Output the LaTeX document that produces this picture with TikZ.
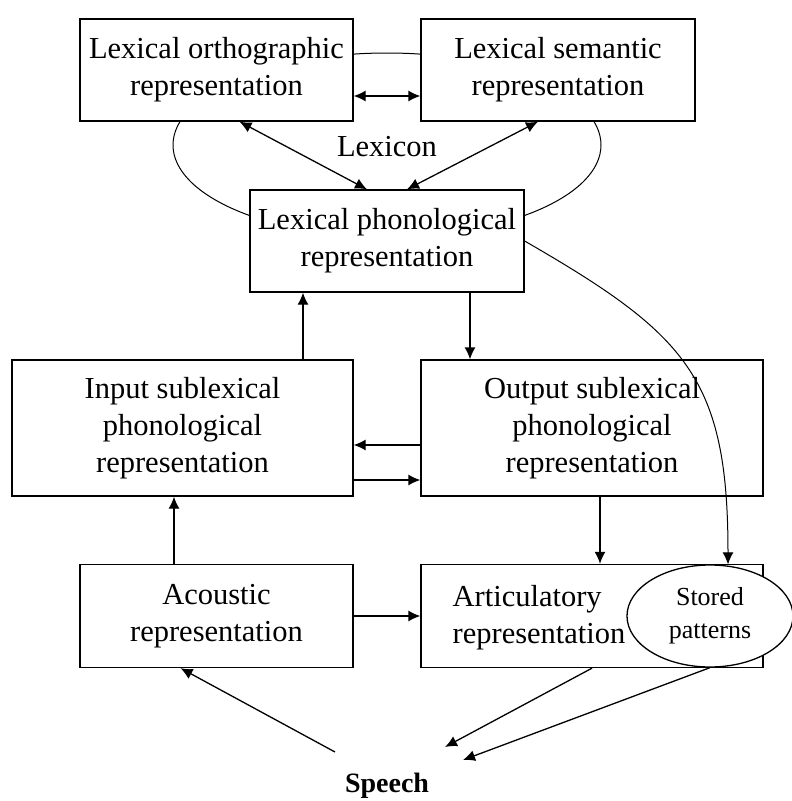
\documentclass[tikz,border=0pt]{standalone}
\usepackage{fontspec}
\setmainfont{Liberation Serif}
\usetikzlibrary{shapes.geometric,arrows.meta}

\begin{document}
\begin{tikzpicture}[x=1pt,y=-1pt,line width=1.3pt,
  box/.style={draw, fill=white, align=center, inner sep=0pt, font=\fontsize{30.5}{37}\selectfont},
  >={Latex[length=12pt,width=11pt]}]
\useasboundingbox (0,0) rectangle (792,801);
\node[draw, ellipse, line width=1pt, minimum width=428pt, minimum height=184pt] (x) at (387,145) {};
\node[font=\fontsize{30.5}{37}\selectfont] (l) at (387,147) {Lexicon};
\node[box, minimum width=273pt, minimum height=102pt] (o) at (216.5,70) {Lexical orthographic\\representation};
\node[box, minimum width=274pt, minimum height=102pt] (s) at (558,70) {Lexical semantic\\representation};
\node[box, minimum width=274pt, minimum height=102pt] (p) at (387,241) {Lexical phonological\\representation};
\node[box, minimum width=341pt, minimum height=136pt] (i) at (182.5,428) {Input sublexical\\phonological\\representation};
\node[box, minimum width=342pt, minimum height=136pt] (u) at (592,428) {Output sublexical\\phonological\\representation};
\node[box, minimum width=273pt, minimum height=103pt] (c) at (216.5,616) {Acoustic\\representation};
\node[box, minimum width=342pt, minimum height=103pt] (r) at (592,616) {};
\node[box, draw=none, fill=none, anchor=west, align=left] (a) at (452,618) {Articulatory\\representation};
\node[draw, ellipse, fill=white, inner sep=0pt, minimum width=166pt, minimum height=102pt,
  align=center, font=\fontsize{26}{33}\selectfont] (e) at (710,616) {Stored\\patterns};
\node[font=\fontsize{28}{34}\selectfont\bfseries] (q) at (387,786) {Speech};
%
\draw[<->] ([yshift=-26pt]o.east) -- ([yshift=-26pt]s.west);
\draw[<->] ([xshift=23pt]o.south) -- ([xshift=-20pt]p.north);
\draw[<->] ([xshift=-20pt]s.south) -- ([xshift=20pt]p.north);
\draw[->] ([xshift=120.5pt]i.north) -- ([xshift=120.5pt]i.north |- p.south);
\draw[->] ([xshift=83pt]p.south) -- ([xshift=83pt]p.south |- u.north);
\draw[->] ([yshift=-17pt]u.west) -- ([yshift=-17pt]i.east);
\draw[->] ([yshift=-52pt]i.east) -- ([yshift=-52pt]u.west);
\draw[->] ([xshift=-42.5pt]c.north) -- ([xshift=-42.5pt]c.north |- i.south);
\draw[->] (c) -- (r);
\draw[->] ([xshift=8pt]u.south) -- ([xshift=8pt]u.south |- r.north);
\draw[->, line width=1pt] (p.east) to[out=-30,in=90,looseness=1.25] ([xshift=18pt]e.north);
\draw[->] ([xshift=-52pt,yshift=34pt]q.center) -- ([xshift=-36pt]c.south);
\draw[->] (r.south) -- ([xshift=58pt,yshift=39pt]q.center);
\draw[->] (e.south) -- ([xshift=76pt,yshift=26pt]q.center);
\end{tikzpicture}
\end{document}
